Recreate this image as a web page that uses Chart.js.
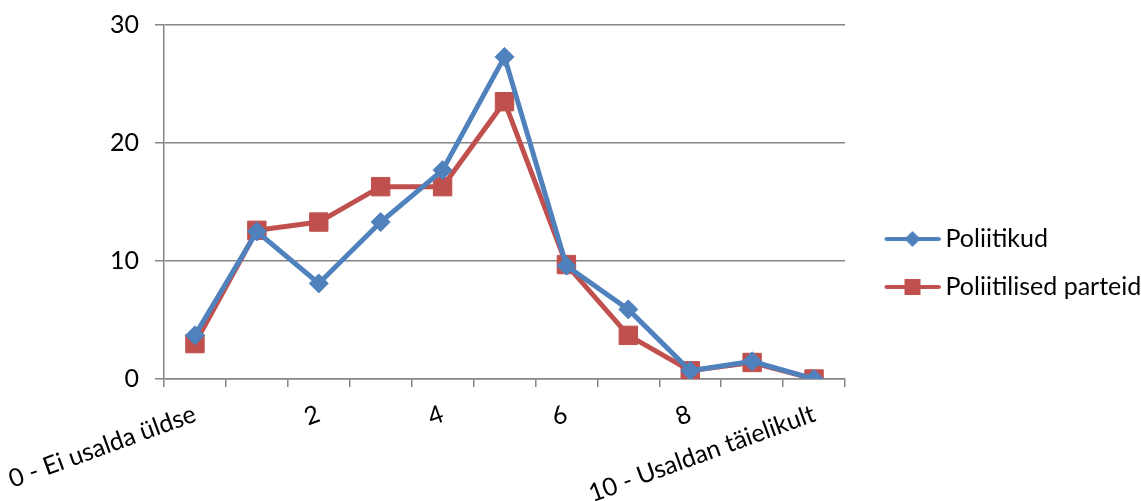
<!DOCTYPE html>
<html>
<head>
<meta charset="utf-8">
<script src="https://cdn.jsdelivr.net/npm/chart.js@4/dist/chart.umd.min.js"></script>
<style>
  html, body { margin: 0; padding: 0; background: #fff; }
  #wrap { width: 1141px; height: 501px; position: relative; }
</style>
</head>
<body>
<div id="wrap"><canvas id="chart"></canvas></div>
<script>
// categories on the trust scale 0..10
var categories = ['0 - Ei usalda üldse', '1', '2', '3', '4', '5', '6', '7', '8', '9', '10 - Usaldan täielikult'];
var seriesNames = ['Poliitikud', 'Poliitilised parteid'];
var politicians = [3.7, 12.5, 8.1, 13.3, 17.7, 27.3, 9.6, 5.9, 0.7, 1.5, 0];
var parties = [3.0, 12.6, 13.3, 16.3, 16.3, 23.5, 9.7, 3.7, 0.7, 1.4, 0];
var yTicks = [0, 10, 20, 30];

var BLUE = '#4F81BD';
var RED = '#C0504D';
var GRID = '#868686';
var FONT = 'Lato, "Open Sans", sans-serif';

// legend icon: line with marker, transparent margin on the left
var ICON_W = 80;
var ICON_STYLE_W = 65;
function legendIcon(color, shape) {
    var c = document.createElement('canvas');
    c.width = ICON_W;
    c.height = 20;
    var g = c.getContext('2d');
    var x0 = ICON_W - 56;
    g.strokeStyle = color;
    g.lineWidth = 4;
    g.lineCap = 'round';
    g.beginPath();
    g.moveTo(x0 + 2, 10);
    g.lineTo(ICON_W - 2, 10);
    g.stroke();
    g.fillStyle = color;
    g.beginPath();
    var cx = x0 + 28;
    if (shape === 'diamond') {
        g.moveTo(cx, 2);
        g.lineTo(cx + 8, 10);
        g.lineTo(cx, 18);
        g.lineTo(cx - 8, 10);
    } else {
        g.rect(cx - 8, 2, 16, 16);
    }
    g.closePath();
    g.fill();
    return c;
}
var icons = [legendIcon(BLUE, 'diamond'), legendIcon(RED, 'square')];

new Chart(document.getElementById('chart'), {
    type: 'line',
    data: {
        labels: categories,
        datasets: [
            {
                label: seriesNames[0],
                data: politicians,
                borderColor: BLUE,
                backgroundColor: BLUE,
                borderWidth: 5,
                pointStyle: 'rectRot',
                pointRadius: 9.5,
                pointBorderWidth: 1,
                tension: 0
            },
            {
                label: seriesNames[1],
                data: parties,
                borderColor: RED,
                backgroundColor: RED,
                borderWidth: 5,
                pointStyle: 'rect',
                pointRadius: 13,
                pointBorderWidth: 1,
                tension: 0
            }
        ]
    },
    options: {
        responsive: true,
        maintainAspectRatio: false,
        animation: false,
        layout: {
            padding: { top: 25, left: 0, right: 0, bottom: 0 }
        },
        plugins: {
            tooltip: { enabled: false },
            legend: {
                position: 'right',
                align: 'center',
                maxWidth: 1141 - 845,
                labels: {
                    usePointStyle: true,
                    pointStyleWidth: ICON_STYLE_W,
                    padding: 23,
                    color: '#000',
                    font: { family: FONT, size: 25 },
                    generateLabels: function(chart) {
                        return chart.data.datasets.map(function(ds, i) {
                            return {
                                text: ds.label,
                                pointStyle: icons[i],
                                fillStyle: ds.borderColor,
                                strokeStyle: ds.borderColor,
                                lineWidth: 0,
                                hidden: false,
                                datasetIndex: i
                            };
                        });
                    }
                }
            }
        },
        scales: {
            x: {
                offset: true,
                grid: {
                    offset: true,
                    drawOnChartArea: false,
                    color: GRID,
                    tickLength: 8,
                    lineWidth: 1.5
                },
                border: { color: GRID, width: 1.5 },
                ticks: {
                    autoSkip: false,
                    minRotation: 20,
                    maxRotation: 20,
                    padding: 12,
                    color: '#000',
                    font: { family: FONT, size: 25 },
                    callback: function(value, index) {
                        return index % 2 === 0 ? categories[index] : '';
                    }
                },
                afterFit: function(s) {
                    s.height = 501 - 379;
                    s.paddingLeft = 0;
                    s.paddingRight = 0;
                }
            },
            y: {
                min: yTicks[0],
                max: yTicks[yTicks.length - 1],
                afterBuildTicks: function(s) {
                    s.ticks = yTicks.map(function(v) { return { value: v }; });
                },
                grid: {
                    color: GRID,
                    tickLength: 9,
                    lineWidth: 1.5
                },
                border: { color: GRID, width: 1.5 },
                ticks: {
                    padding: 16,
                    color: '#000',
                    font: { family: FONT, size: 25 }
                },
                afterFit: function(s) {
                    s.width = 164;
                    s.paddingTop = 0;
                    s.paddingBottom = 0;
                }
            }
        }
    }
});
</script>
</body>
</html>
